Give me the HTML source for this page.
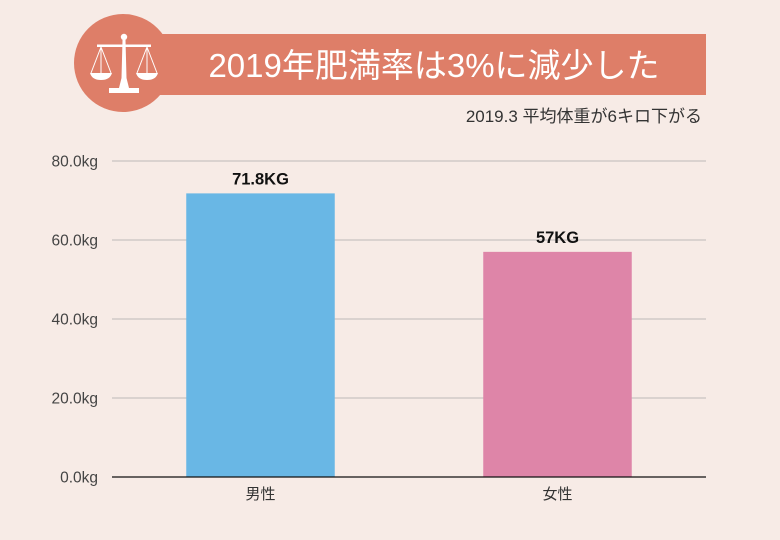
<!DOCTYPE html>
<html><head><meta charset="utf-8"><style>
html,body{margin:0;padding:0;background:#f7ebe6;}
svg{display:block;font-family:"Liberation Sans","Noto Sans CJK JP",sans-serif;}
</style></head><body>
<svg id="chart" width="780" height="540" viewBox="0 0 780 540">
  <rect width="780" height="540" fill="#f7ebe6"/>
  <g>
    <rect x="150" y="34" width="556" height="61" fill="#de7e68"/>
    <circle cx="123" cy="63" r="49" fill="#de7e68"/>
    <g fill="#fff" stroke="none">
      <circle cx="124" cy="37" r="3.2"/>
      <rect x="97" y="44.5" width="54" height="2.5"/>
      <polygon points="122.5,40 125.5,40 126.5,78 129,88 119,88 121.5,78"/>
      <rect x="109" y="88" width="30" height="5"/>
      <path d="M90,73 L112,73 Q110,80 101,80 Q92,80 90,73 Z"/>
      <path d="M136,73 L158,73 Q156,80 147,80 Q138,80 136,73 Z"/>
      <g stroke="#fff" stroke-width="1" fill="none">
        <path d="M101,47 L91,73 M101,47 L111,73 M101,47 L101,73"/>
        <path d="M147,47 L137,73 M147,47 L157,73 M147,47 L147,73"/>
      </g>
    </g>
    <text x="434" y="77" text-anchor="middle" font-size="33" fill="#fff">2019年肥満率は3%に減少した</text>
  </g>
  <text x="702" y="122" text-anchor="end" font-size="17" fill="#333">2019.3 平均体重が6キロ下がる</text>
  <g id="grid"></g>
  <g id="bars"></g>
  <g id="labels"></g>
  <g id="yaxis"></g>
  <g id="xaxis"></g>
</svg>
<script>
const categories = ["男性", "女性"];
const values = [71.8, 57];
const valueLabels = ["71.8KG", "57KG"];
const barColors = ["#69b7e5", "#de85a8"];
const yTicks = [0, 20, 40, 60, 80];
const yTickLabels = ["0.0kg", "20.0kg", "40.0kg", "60.0kg", "80.0kg"];

const NS = "http://www.w3.org/2000/svg";
const plot = {left: 112, right: 706, top: 161, bottom: 477};
const yMax = 80;
function y(v){ return plot.bottom - (v / yMax) * (plot.bottom - plot.top); }
const band = (plot.right - plot.left) / categories.length;
function xc(i){ return plot.left + band * (i + 0.5); }
const barW = band * 0.5;
function mk(tag, attrs, parent){ const e = document.createElementNS(NS, tag); for (const k in attrs) e.setAttribute(k, attrs[k]); parent.appendChild(e); return e; }

const grid = document.getElementById('grid');
const yaxis = document.getElementById('yaxis');
yTicks.forEach((t, i) => {
  if (t !== 0) {
    const l = mk('line', {x1: plot.left, x2: plot.right, y1: y(t), y2: y(t), stroke: '#bdb8b8', 'stroke-width': 1}, grid);
    
    
  }
  const tx = mk('text', {x: 98, y: y(t) + 5.5, 'text-anchor': 'end', 'font-size': 15.5, fill: '#444'}, yaxis);
  tx.textContent = yTickLabels[i];
  
  
});

const bars = document.getElementById('bars');
const labels = document.getElementById('labels');
const xaxis = document.getElementById('xaxis');
categories.forEach((c, i) => {
  const r = mk('rect', {x: xc(i) - barW / 2, y: y(values[i]), width: barW, height: plot.bottom - y(values[i]), fill: barColors[i]}, bars);
  
  
  const vl = mk('text', {x: xc(i), y: y(values[i]) - 9, 'text-anchor': 'middle', 'font-size': 16.5, 'font-weight': 'bold', fill: '#111'}, labels);
  vl.textContent = valueLabels[i];
  
  
  const cl = mk('text', {x: xc(i), y: 499, 'text-anchor': 'middle', 'font-size': 15, fill: '#333'}, xaxis);
  cl.textContent = c;
  
  
});
const axisLine = mk('line', {x1: plot.left, x2: plot.right, y1: plot.bottom, y2: plot.bottom, stroke: '#111', 'stroke-width': 1.3}, xaxis);


</script>
</body></html>
